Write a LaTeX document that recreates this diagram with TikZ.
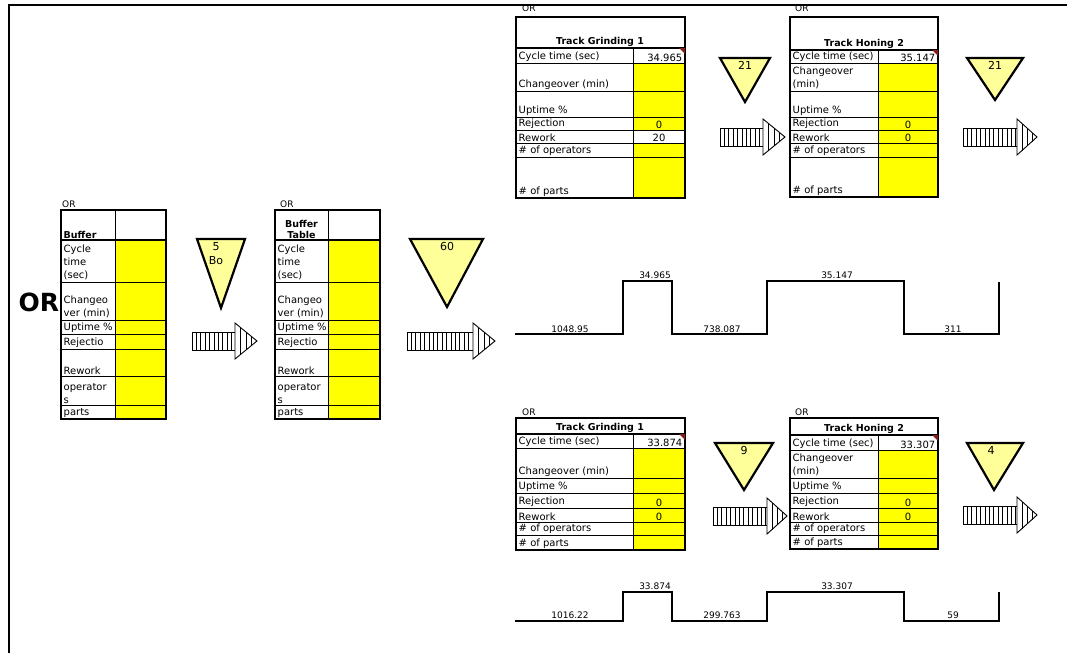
\documentclass[tikz,border=0pt]{standalone}
\usepackage{fontspec}
\setmainfont{DejaVu Sans}
\definecolor{cellyel}{RGB}{255,255,0}
\definecolor{invyel}{RGB}{255,255,153}
\definecolor{markred}{RGB}{130,30,30}
\tikzset{
  tblframe/.style={draw=black, line width=1.8pt},
  rowline/.style={draw=black, line width=0.9pt},
  cell/.style={anchor=south west, inner sep=1.5pt, align=left,
               font=\fontsize{10}{13}\selectfont},
  val/.style={inner sep=1.5pt, font=\fontsize{10}{13}\selectfont},
  headlbl/.style={anchor=south, inner sep=1.5pt, align=center,
               font=\bfseries\fontsize{9.5}{11}\selectfont},
  orlbl/.style={anchor=base west, inner sep=0pt, font=\fontsize{9}{10}\selectfont},
  invtri/.style={draw=black, line width=2.2pt, fill=invyel, line join=miter},
  invlbl/.style={anchor=north, inner sep=0pt, align=center, font=\fontsize{11}{14}\selectfont},
  push/.style={draw=black, line width=0.9pt, fill=white},
  wave/.style={draw=black, line width=2.6pt},
  wavelbl/.style={anchor=base, inner sep=0pt, font=\fontsize{9}{10}\selectfont},
}
\begin{document}
\begin{tikzpicture}[x=1pt,y=-1pt]
    \useasboundingbox (0,0) rectangle (1067,653);
    \draw[line width=2.6pt] (9,653) -- (9,5) -- (1067,5);
    \node[font=\bfseries\fontsize{25}{25}\selectfont,inner sep=0pt] (bigor) at (39,302) {OR};
    % buffer
    \fill[cellyel] (115,240) rectangle (166,419);
    \foreach \yy in {282,320,334,349,376,405} \draw[rowline] (61,\yy) -- (166,\yy);
    \draw[tblframe] (61,240) -- (166,240);
    \draw[rowline] (115,210) -- (115,419);
    \draw[tblframe] (61,210) rectangle (166,419);
    \node[orlbl] (or1) at (62,207) {OR};
    \node[headlbl,anchor=south west] (buf) at (62,240) {Buffer};
    \foreach \yy/\t [count=\i] in {282/{Cycle\\time\\(sec)},320/{Changeo\\ver (min)},334/{Uptime \%},
        349/Rejectio,376/Rework,405/{operator\\s},419/parts}
      \node[cell] (bufr\i) at (62,\yy) {\t};
    % buffer table
    \fill[cellyel] (328,240) rectangle (380,419);
    \foreach \yy in {282,320,334,349,376,405} \draw[rowline] (275,\yy) -- (380,\yy);
    \draw[tblframe] (275,240) -- (380,240);
    \draw[rowline] (328,210) -- (328,419);
    \draw[tblframe] (275,210) rectangle (380,419);
    \node[orlbl] (or2) at (280,207) {OR};
    \node[headlbl] (buftab) at (301.5,240) {Buffer\\Table};
    \foreach \yy/\t [count=\i] in {282/{Cycle\\time\\(sec)},320/{Changeo\\ver (min)},334/{Uptime \%},
        349/Rejectio,376/Rework,405/{operator\\s},419/parts}
      \node[cell] (buftabr\i) at (276,\yy) {\t};
    % track grinding 1 (top)
    \fill[cellyel] (633,63) rectangle (685,130);
    \fill[cellyel] (633,143) rectangle (685,198);
    \foreach \yy in {63,91,117,130,143,157} \draw[rowline] (516,\yy) -- (685,\yy);
    \draw[tblframe] (516,48) -- (685,48);
    \draw[rowline] (633,48) -- (633,198);
    \draw[tblframe] (516,17) rectangle (685,198);
    \fill[markred] (679,48) -- (685,48) -- (685,54) -- cycle;
    \node[orlbl] (or3) at (522,11) {OR};
    \node[headlbl] (grind1) at (600,48) {Track Grinding 1};
    \foreach \yy/\t [count=\i] in {63/{Cycle time (sec)},91/{Changeover (min)},117/{Uptime \%},
        130/Rejection,143/Rework,157/{\# of operators},198/{\# of parts}}
      \node[cell] (grind1r\i) at (517,\yy) {\t};
    \node[val,anchor=south east] (grind1ct) at (684,63) {34.965};
    \node[val,anchor=south] (grind1rj) at (659,130) {0};
    \node[val,anchor=south] (grind1rw) at (659,143) {20};
    % track honing 2 (top)
    \fill[cellyel] (878,63) rectangle (938,197);
    \foreach \yy in {63,91,117,130,143,157} \draw[rowline] (790,\yy) -- (938,\yy);
    \draw[tblframe] (790,50) -- (938,50);
    \draw[rowline] (878,50) -- (878,197);
    \draw[tblframe] (790,17) rectangle (938,197);
    \fill[markred] (932,50) -- (938,50) -- (938,56) -- cycle;
    \node[orlbl] (or4) at (795,11) {OR};
    \node[headlbl] (hone1) at (864,50) {Track Honing 2};
    \foreach \yy/\t [count=\i] in {63/{Cycle time (sec)},91/{Changeover\\(min)},117/{Uptime \%},
        130/Rejection,143/Rework,157/{\# of operators},197/{\# of parts}}
      \node[cell] (hone1r\i) at (791,\yy) {\t};
    \node[val,anchor=south east] (hone1ct) at (937,63) {35.147};
    \node[val,anchor=south] (hone1rj) at (908,130) {0};
    \node[val,anchor=south] (hone1rw) at (908,143) {0};
    % track grinding 1 (bottom)
    \fill[cellyel] (633,448) rectangle (685,550);
    \foreach \yy in {448,478,493,508,522,535} \draw[rowline] (516,\yy) -- (685,\yy);
    \draw[tblframe] (516,434) -- (685,434);
    \draw[rowline] (633,434) -- (633,550);
    \draw[tblframe] (516,418) rectangle (685,550);
    \fill[markred] (679,434) -- (685,434) -- (685,440) -- cycle;
    \node[orlbl] (or5) at (522,415) {OR};
    \node[headlbl] (grind2) at (600,434) {Track Grinding 1};
    \foreach \yy/\t [count=\i] in {448/{Cycle time (sec)},478/{Changeover (min)},493/{Uptime \%},
        508/Rejection,522/Rework,535/{\# of operators},550/{\# of parts}}
      \node[cell] (grind2r\i) at (517,\yy) {\t};
    \node[val,anchor=south east] (grind2ct) at (684,448) {33.874};
    \node[val,anchor=south] (grind2rj) at (659,508) {0};
    \node[val,anchor=south] (grind2rw) at (659,522) {0};
    % track honing 2 (bottom)
    \fill[cellyel] (878,450) rectangle (938,549);
    \foreach \yy in {450,478,493,508,522,535} \draw[rowline] (790,\yy) -- (938,\yy);
    \draw[tblframe] (790,435) -- (938,435);
    \draw[rowline] (878,435) -- (878,549);
    \draw[tblframe] (790,418) rectangle (938,549);
    \fill[markred] (932,435) -- (938,435) -- (938,441) -- cycle;
    \node[orlbl] (or6) at (795,415) {OR};
    \node[headlbl] (hone2) at (864,435) {Track Honing 2};
    \foreach \yy/\t [count=\i] in {450/{Cycle time (sec)},478/{Changeover\\(min)},493/{Uptime \%},
        508/Rejection,522/Rework,535/{\# of operators},549/{\# of parts}}
      \node[cell] (hone2r\i) at (791,\yy) {\t};
    \node[val,anchor=south east] (hone2ct) at (937,450) {33.307};
    \node[val,anchor=south] (hone2rj) at (908,508) {0};
    \node[val,anchor=south] (hone2rw) at (908,522) {0};
    % inventory triangles
    \foreach \l/\r/\ty/\ax/\ay in {197/245/239/221/308,410/483/239/447/307,720/770/58/745/102,
        967/1023/58/995/100,715/773/443/744/490,967/1023/443/994/490}
      \draw[invtri] (\l,\ty) -- (\r,\ty) -- (\ax,\ay) -- cycle;
    \node[invlbl] (inv1) at (216,242) {5\\Bo};
    \node[invlbl] (inv2) at (447,242) {60};
    \node[invlbl] (inv3) at (745,61) {21};
    \node[invlbl] (inv4) at (995,61) {21};
    \node[invlbl] (inv5) at (744,446) {9};
    \node[invlbl] (inv6) at (991,446) {4};
    % push arrows
    \foreach \a/\b/\c/\yc in {192/235/257/341,407/473/495/341,720/763/785/137,
        963/1017/1037/137,713/767/787/516,963/1017/1037/515} {
      \draw[push] (\a,{\yc-9}) rectangle (\b,{\yc+9});
      \pgfmathtruncatemacro{\n}{(\b-\a)/4.4}
      \foreach \k in {1,...,\n}
        \draw[push] ({\a+\k*4.4},{\yc-9}) -- ({\a+\k*4.4},{\yc+9});
      \draw[push] (\b,{\yc-18}) -- (\c,\yc) -- (\b,{\yc+18}) -- cycle;
      \foreach \d in {0.25,0.5,0.75}
        \draw[push] ({\b+\d*(\c-\b)},{\yc-18*(1-\d)}) -- ({\b+\d*(\c-\b)},{\yc+18*(1-\d)});
    }
    % timelines
    \draw[wave] (515,334) -- (623,334) -- (623,281) -- (672,281) -- (672,334) -- (767,334)
      -- (767,281) -- (904,281) -- (904,334) -- (999,334) -- (999,282);
    \node[wavelbl] (w1a) at (570,332) {1048.95};
    \node[wavelbl] (w1b) at (655,278) {34.965};
    \node[wavelbl] (w1c) at (722,332) {738.087};
    \node[wavelbl] (w1d) at (837,278) {35.147};
    \node[wavelbl] (w1e) at (953,332) {311};
    \draw[wave] (515,621) -- (623,621) -- (623,592) -- (672,592) -- (672,621) -- (767,621)
      -- (767,592) -- (904,592) -- (904,621) -- (999,621) -- (999,592);
    \node[wavelbl] (w2a) at (570,618) {1016.22};
    \node[wavelbl] (w2b) at (655,589) {33.874};
    \node[wavelbl] (w2c) at (722,618) {299.763};
    \node[wavelbl] (w2d) at (837,589) {33.307};
    \node[wavelbl] (w2e) at (953,618) {59};
\end{tikzpicture}
\end{document}
